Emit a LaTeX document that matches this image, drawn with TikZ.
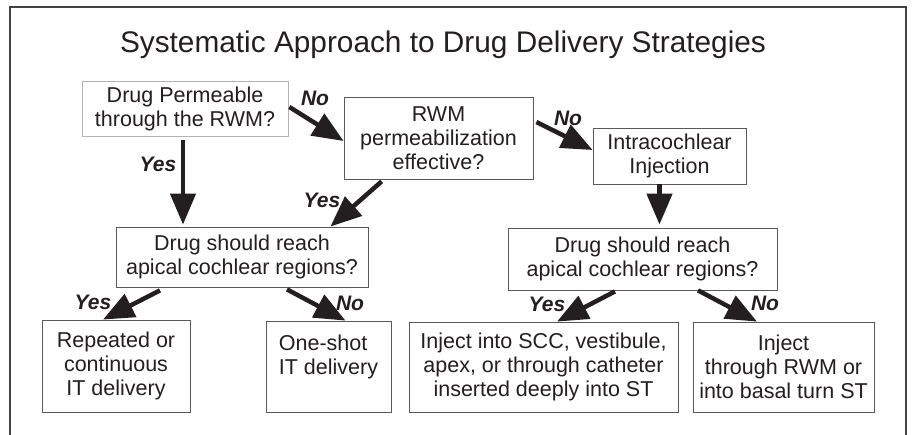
\documentclass[tikz,border=0pt]{standalone}
\usepackage{fontspec}
\setmainfont{Liberation Sans}
\usepackage{xcolor}
\usetikzlibrary{arrows.meta,calc}
\definecolor{ink}{HTML}{231F20}
\tikzset{
        block/.style = {draw=black!65, line width=0.8pt, fill=white, rectangle, inner sep=0pt, text=ink, align=center, font=\fontsize{21.5}{24}\selectfont},
        answer/.style = {text=ink, inner sep=0pt, font=\fontsize{21}{23}\selectfont\bfseries\itshape},
        line/.style={draw=ink, line width=4.5pt, -{Triangle[length=31pt,width=25pt]}}}

\begin{document}
\begin{tikzpicture}[x=1pt,y=-1pt]
            \useasboundingbox (0,0) rectangle (912,435);
            \draw[ink!85, line width=1.2pt] (10,435) |- (906,7) -- (906,435);
            \node[text=ink, anchor=base, font=\fontsize{29.8}{33}\selectfont] (title) at (443,53) {Systematic Approach to Drug Delivery Strategies};

            \node [block, draw=black!30, minimum width=206pt, minimum height=55pt] (perm) at (185,108.5) {Drug Permeable\\through the RWM?};
            \node [block, minimum width=189pt, minimum height=82pt] (rwm) at (438.5,138) {RWM\\permeabilization\\effective?};
            \node [block, minimum width=153pt, minimum height=56pt] (inj) at (669.5,156) {Intracochlear\\Injection};
            \node [block, minimum width=252pt, minimum height=60pt] (reachL) at (242,257) {Drug should reach\\apical cochlear regions?};
            \node [block, minimum width=269pt, minimum height=62pt] (reachR) at (642.5,259) {Drug should reach\\apical cochlear regions?};
            \node [block, minimum width=148pt, minimum height=92pt] (rep) at (116,366) {Repeated or\\continuous\\IT delivery};
            \node [block, align=left, minimum width=125pt, minimum height=91pt] (shot) at (328.5,366.5) {One-shot\\IT delivery\\\mbox{}};
            \node [block, minimum width=269pt, minimum height=90pt] (scc) at (543.5,367) {Inject into SCC, vestibule,\\apex, or through catheter\\inserted deeply into ST};
            \node [block, minimum width=181pt, minimum height=90pt] (basal) at (783.5,367) {Inject\\through RWM or\\into basal turn ST};

            \begin{scope}[line]
            \draw ([xshift=1pt,yshift=1.5pt]perm.east) -- ([yshift=-3pt]rwm.west);
            \draw ([xshift=-2pt,yshift=-4pt]perm.south) -- ([xshift=-2pt,yshift=2pt]perm.south |- reachL.north);
            \draw ([xshift=38pt,yshift=-2pt]rwm.south west) -- ([xshift=-38pt]reachL.north east);
            \draw ([xshift=3pt,yshift=16pt]rwm.east) -- ([yshift=6pt]inj.west);
            \draw ([xshift=-10pt]inj.south) -- ([xshift=-10pt,yshift=3pt]inj.south |- reachR.north);
            \draw ([xshift=-82pt,yshift=-3pt]reachL.south) -- ([xshift=-13pt]rep.north);
            \draw ([xshift=45pt,yshift=-2pt]reachL.south) -- ([xshift=17pt]shot.north);
            \draw ([xshift=-27.5pt,yshift=-1pt]reachR.south) -- ([xshift=13.5pt]scc.north);
            \draw ([xshift=55.5pt]reachR.south) -- ([xshift=-26.5pt]basal.north);
            \end{scope}

            \node[answer] (no1) at (315,98) {No};
            \node[answer] (yes1) at (158,164) {Yes};
            \node[answer] (yes2) at (322,200) {Yes};
            \node[answer] (no2) at (568,118) {No};
            \node[answer] (yes3) at (93,302) {Yes};
            \node[answer] (no3) at (350,303) {No};
            \node[answer] (yes4) at (547,304) {Yes};
            \node[answer] (no4) at (765,303) {No};
    \end{tikzpicture}
\end{document}
